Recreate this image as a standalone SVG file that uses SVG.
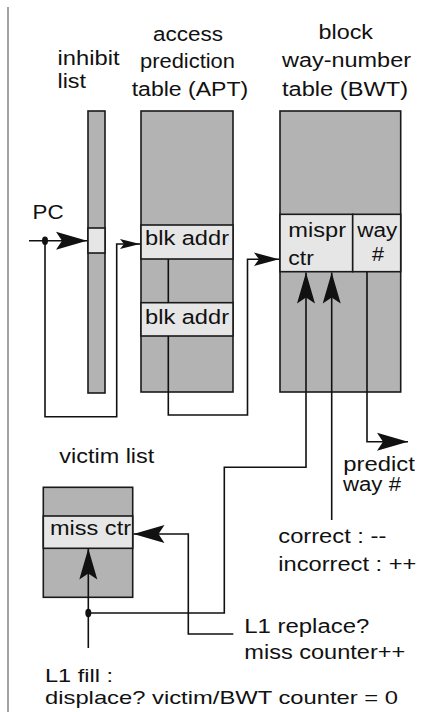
<svg xmlns="http://www.w3.org/2000/svg" width="430" height="712" viewBox="0 0 430 712">
<style>
.t{font-family:"Liberation Sans",Arial,sans-serif;font-size:19.5px;fill:#111}
.s{font-size:19px}
.box{fill:#b3b3b3;stroke:#1a1a1a;stroke-width:1.6}
.cell{fill:#e6e6e6;stroke:#1a1a1a;stroke-width:1.6}
.ln{fill:none;stroke:#111;stroke-width:1.6}
.dot{fill:#111}
</style>
<defs>
<marker id="aL" viewBox="-32 -10 34 20" refX="0" refY="0" markerWidth="34" markerHeight="20" markerUnits="userSpaceOnUse" orient="auto">
<path d="M0,0 L-31,-9 L-25,0 L-31,9 Z" fill="#111"/>
</marker>
<marker id="aM" viewBox="-27 -8 29 16" refX="0" refY="0" markerWidth="29" markerHeight="16" markerUnits="userSpaceOnUse" orient="auto">
<path d="M0,0 L-25,-6.8 L-20,0 L-25,6.8 Z" fill="#111"/>
</marker>
<marker id="aS" viewBox="-22 -6 24 12" refX="0" refY="0" markerWidth="24" markerHeight="12" markerUnits="userSpaceOnUse" orient="auto">
<path d="M0,0 L-20,-5 L-16,0 L-20,5 Z" fill="#111"/>
</marker>
</defs>
<rect width="430" height="712" fill="#fff"/>
<line x1="8" y1="7" x2="8" y2="712" stroke="#8c8c8c" stroke-width="1.6"/>

<g id="inhibit">
<text class="t" x="57.5" y="65" textLength="62" lengthAdjust="spacingAndGlyphs">inhibit</text>
<text class="t" x="57.5" y="88" textLength="28.5" lengthAdjust="spacingAndGlyphs">list</text>
<rect class="box" x="88" y="111" width="17" height="282"/>
<rect class="cell" x="88" y="228" width="17" height="25"/>
</g>

<g id="apt">
<text class="t" x="153" y="40.5" textLength="70" lengthAdjust="spacingAndGlyphs">access</text>
<text class="t" x="140" y="67.5" textLength="95" lengthAdjust="spacingAndGlyphs">prediction</text>
<text class="t" x="131.7" y="95.5" textLength="116.5" lengthAdjust="spacingAndGlyphs">table (APT)</text>
<rect class="box" x="141" y="111" width="92" height="281"/>
<rect class="cell" x="141" y="225" width="92" height="34"/>
<rect class="cell" x="141" y="302.7" width="92" height="33.3"/>
<text class="t" x="145" y="245" textLength="84" lengthAdjust="spacingAndGlyphs">blk addr</text>
<text class="t" x="145" y="323.5" textLength="84" lengthAdjust="spacingAndGlyphs">blk addr</text>
</g>

<g id="bwt">
<text class="t" x="318.5" y="38.5" textLength="54.5" lengthAdjust="spacingAndGlyphs">block</text>
<text class="t" x="282" y="67" textLength="129" lengthAdjust="spacingAndGlyphs">way-number</text>
<text class="t" x="282" y="95.5" textLength="126" lengthAdjust="spacingAndGlyphs">table (BWT)</text>
<rect class="box" x="280" y="111" width="120.7" height="281"/>
<rect class="cell" x="280" y="214.3" width="72.7" height="57.4"/>
<rect class="cell" x="352.7" y="214.3" width="48" height="57.4"/>
<text class="t" x="288.3" y="236.7" textLength="57.7" lengthAdjust="spacingAndGlyphs">mispr</text>
<text class="t" x="288.3" y="264.5" textLength="25.5" lengthAdjust="spacingAndGlyphs">ctr</text>
<text class="t" x="357.3" y="236.7" textLength="40" lengthAdjust="spacingAndGlyphs">way</text>
<text class="t" x="372" y="260.5" textLength="12" lengthAdjust="spacingAndGlyphs">#</text>
</g>

<g id="victim">
<text class="t" x="59.3" y="463.3" textLength="95" lengthAdjust="spacingAndGlyphs">victim list</text>
<rect class="box" x="43.3" y="487.3" width="89.4" height="110"/>
<rect class="cell" x="43.3" y="516" width="89.4" height="32.3"/>
<text class="t" x="50" y="535" textLength="81" lengthAdjust="spacingAndGlyphs">miss ctr</text>
</g>

<g id="labels">
<text class="t" x="32.5" y="218.5" textLength="31" lengthAdjust="spacingAndGlyphs">PC</text>
<text class="t" x="343.3" y="470.5" textLength="71.5" lengthAdjust="spacingAndGlyphs">predict</text>
<text class="t" x="343" y="491" textLength="58" lengthAdjust="spacingAndGlyphs">way #</text>
<text class="t" x="278.3" y="543.3" textLength="108" lengthAdjust="spacingAndGlyphs">correct : --</text>
<text class="t" x="278.3" y="571" textLength="138" lengthAdjust="spacingAndGlyphs">incorrect : ++</text>
<text class="t" x="244.3" y="633.3" textLength="125" lengthAdjust="spacingAndGlyphs">L1 replace?</text>
<text class="t" x="244.3" y="659" textLength="161" lengthAdjust="spacingAndGlyphs">miss counter++</text>
<text class="t s" x="45" y="682" textLength="68" lengthAdjust="spacingAndGlyphs">L1 fill :</text>
<text class="t s" x="45" y="703.5" textLength="353" lengthAdjust="spacingAndGlyphs">displace? victim/BWT counter = 0</text>
</g>

<g id="connectors">
<path class="ln" d="M29,240.7 H87" marker-end="url(#aL)"/>
<path class="ln" d="M45,240.7 V416.7 H116.7 V244 H140" marker-end="url(#aS)"/>
<path class="ln" d="M168.3,259 V302.7"/>
<path class="ln" d="M168.3,336 V415 H247.5 V259.3 H279" marker-end="url(#aM)"/>
<path class="ln" d="M88.3,613 H224.3 V467.3 H306 V272.5" marker-end="url(#aL)"/>
<path class="ln" d="M331.7,520 V272.5" marker-end="url(#aL)"/>
<path class="ln" d="M367,271.7 V441.7 H408" marker-end="url(#aL)"/>
<path class="ln" d="M233.3,634 H188.3 V534 H133.5" marker-end="url(#aL)"/>
<path class="ln" d="M88.3,648 V548.5" marker-end="url(#aL)"/>
<ellipse class="dot" cx="45" cy="240.7" rx="3" ry="4.2"/>
<ellipse class="dot" cx="88.3" cy="613" rx="3" ry="4.2"/>
</g>
</svg>
